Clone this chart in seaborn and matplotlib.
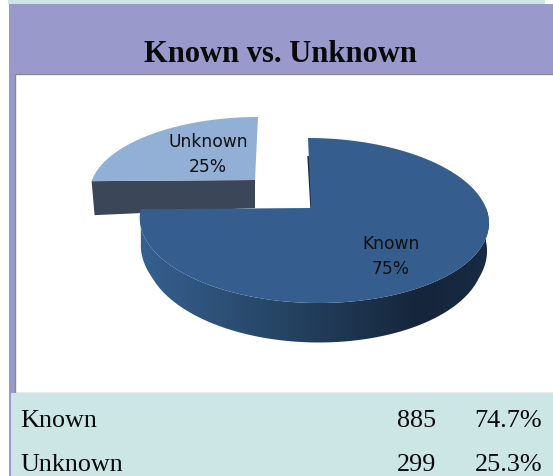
import numpy as np
import matplotlib
matplotlib.use("Agg")
import matplotlib.pyplot as plt
from matplotlib.colors import LinearSegmentedColormap
from matplotlib.patches import Rectangle, Polygon
import seaborn as sns

categories = ["Known", "Unknown"]
counts = [885, 299]
shares = ["74.7%", "25.3%"]
pie_shares = ["75%", "25%"]
title = "Known vs. Unknown"

sns.set_theme(style="white")
plt.rcParams["font.family"] = ["Liberation Serif", "DejaVu Serif"]

PURPLE, TEAL = "#9999CC", "#CCE5E5"
KNOWN_TOP, UNKNOWN_TOP, UNKNOWN_WALL = sns.color_palette(["#355E8F", "#92B0D6", "#3B4758"])
wall_cmap = LinearSegmentedColormap.from_list(
    "wall", [(0, "#36608F"), (0.45, "#24415F"), (0.8, "#15253B"), (1, "#182B44")])

fig = plt.figure(figsize=(5.53, 4.77), dpi=100, facecolor="white")
ax = fig.add_axes([0, 0, 1, 1])
ax.set_xlim(0, 553)
ax.set_ylim(477, 0)
ax.axis("off")

ax.add_patch(Rectangle((8, 0), 537, 5, fc=TEAL, lw=0))
ax.add_patch(Rectangle((9, 5), 544, 472, fc=PURPLE, lw=0))
ax.add_patch(Rectangle((14.5, 74.5), 539, 319, fc="white", ec="#8A8A8A", lw=1))
ax.add_patch(Rectangle((11, 394), 542, 83, fc=TEAL, lw=0))

ax.text(280, 62, title, ha="center", va="baseline", fontsize=22, fontweight="bold", color="#0A0A0A")
for name, count, share, y in zip(categories, counts, shares, [427, 471]):
    ax.text(20, y, name, fontsize=18.8, color="#0A0A0A", va="baseline")
    ax.text(436, y, str(count), fontsize=18.8, color="#0A0A0A", ha="right", va="baseline")
    ax.text(542, y, share, fontsize=18.8, color="#0A0A0A", ha="right", va="baseline")

# Slice angles come from the counts; 12 o'clock start, clockwise.
B = 25 / 165


def project(theta, cx, cy, rx, up, skew=0.0):
    c, s = np.cos(theta), np.sin(theta)
    w = 1 + B * s
    return cx + rx * c / w - skew * s, cy - up * (1 + B) * s / w


total = sum(counts)
split = np.pi / 2 - 2 * np.pi * counts[0] / total  # end of Known, clockwise
th_known = np.linspace(np.pi / 2, split, 240)
th_unknown = np.linspace(split + 2 * np.pi, np.pi / 2, 90)

# Unknown slice, pulled out to the upper left
ua = (255, 181)
ux, uy = project(th_unknown, 255, 181, 163, 63, skew=-3)
ax.fill([ux[0], ux[0] + 3, ua[0], ua[0]], [uy[0], uy[0] + 34, ua[1] + 28, ua[1]],
        color=UNKNOWN_WALL, lw=0, zorder=2)
ax.fill(np.r_[ua[0], ux], np.r_[ua[1], uy], color=UNKNOWN_TOP, lw=0, zorder=3)

# Known slice
ka = (311, 209)
kw = dict(cx=313.5, cy=209, rx=172.5, up=70, skew=5.5)
th_wall = np.linspace(split, 0.0, 220)
tx, ty = project(th_wall, **kw)
shrink = 1 - 0.03 * np.minimum(1, np.abs(np.sin(th_wall)) / 0.4)
lx = 313.5 + (tx - 313.5) * shrink
ly = ty + 33.5 / (1 + B * np.sin(th_wall))
wall = Polygon(np.c_[np.r_[tx, lx[::-1]], np.r_[ty, ly[::-1]]], closed=True, fc="none", lw=0,
               transform=ax.transData)
ax.add_patch(wall)
grad = ax.imshow(np.linspace(0, 1, 256)[None, :], cmap=wall_cmap, aspect="auto",
                 extent=(tx.min(), tx.max(), ly.max() + 1, ty.min() - 1), zorder=4,
                 interpolation="bilinear")
grad.set_clip_path(wall)
ax.set_xlim(0, 553)
ax.set_ylim(477, 0)
kx, ky = project(th_known, **kw)
ax.plot([kx[0] + 0.3, ka[0] + 0.3], [ky[0] + 18, ka[1]], color="#16263C", lw=1.4, zorder=4,
        solid_capstyle="butt")
ax.fill(np.r_[ka[0], kx], np.r_[ka[1], ky], color=KNOWN_TOP, lw=0, zorder=5)

for name, pct, x, y in zip(categories, pie_shares, [391, 208], [244, 142]):
    ax.text(x, y, name, family="DejaVu Sans", fontsize=12.3, color="#101010", ha="center", va="center", zorder=6)
    ax.text(x, y + 25, pct, family="DejaVu Sans", fontsize=12.3, color="#101010", ha="center", va="center", zorder=6)

fig.savefig("out.png", dpi=100)
